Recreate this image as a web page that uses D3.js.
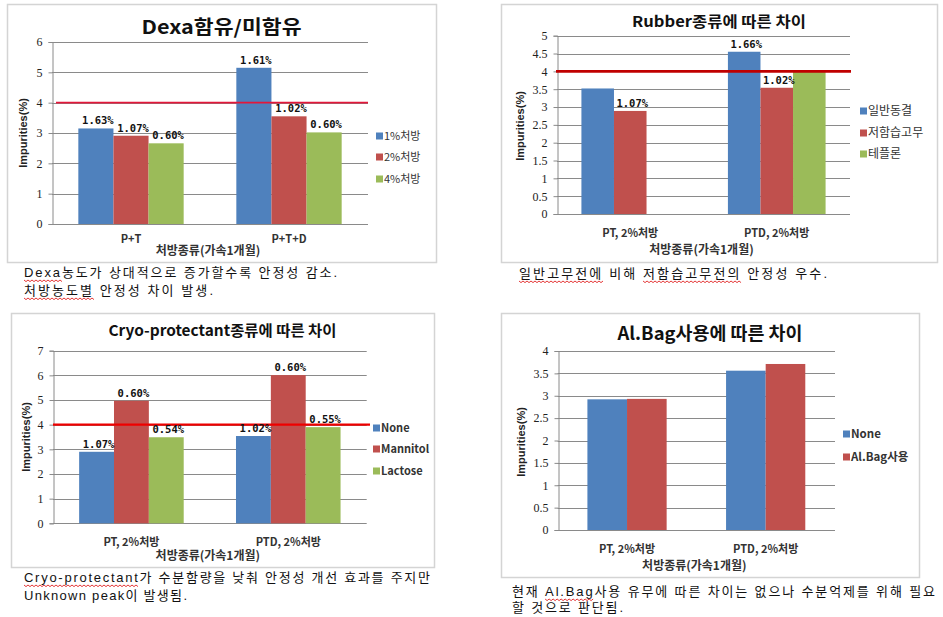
<!DOCTYPE html>
<html><head><meta charset="utf-8">
<script src="https://cdn.jsdelivr.net/npm/d3@7"></script>
<style>
body{margin:0;background:#fff;}
svg{display:block;}
</style></head>
<body>
<script>
// ---------- DATA ----------
const p1Title = "Dexa함유/미함유";
const p1Categories = ["P+T", "P+T+D"];
const p1Series = ["1%처방", "2%처방", "4%처방"];
const p1Values = [[3.15, 5.15], [2.91, 3.55], [2.66, 3.02]];
const p1Labels = [["1.63%", "1.61%"], ["1.07%", "1.02%"], ["0.60%", "0.60%"]];
const p1Ticks = [0, 1, 2, 3, 4, 5, 6];
const p1Limit = 4;
const p1Caption = ["Dexa농도가 상대적으로 증가할수록 안정성 감소.", "처방농도별 안정성 차이 발생."];
const p1Underline = [["Dexa"], ["처방농도별"]];

const p2Title = "Rubber종류에 따른 차이";
const p2Categories = ["PT, 2%처방", "PTD, 2%처방"];
const p2Series = ["일반동결", "저함습고무", "테플론"];
const p2Values = [[3.52, 4.55], [2.89, 3.54], [null, 4.02]];
const p2Labels = [[null, "1.66%"], ["1.07%", "1.02%"], [null, null]];
const p2Ticks = [0, 0.5, 1, 1.5, 2, 2.5, 3, 3.5, 4, 4.5, 5];
const p2Limit = 4;
const p2Caption = ["일반고무전에 비해 저함습고무전의 안정성 우수."];
const p2Underline = [["일반고무전에", "저함습고무전의"]];

const p3Title = "Cryo-protectant종류에 따른 차이";
const p3Categories = ["PT, 2%처방", "PTD, 2%처방"];
const p3Series = ["None", "Mannitol", "Lactose"];
const p3Values = [[2.9, 3.54], [4.97, 6.01], [3.49, 3.9]];
const p3Labels = [["1.07%", "1.02%"], ["0.60%", "0.60%"], ["0.54%", "0.55%"]];
const p3Ticks = [0, 1, 2, 3, 4, 5, 6, 7];
const p3Limit = 4;
const p3Caption = ["Cryo-protectant가 수분함량을 낮춰 안정성 개선 효과를 주지만", "Unknown peak이 발생됨."];
const p3Underline = [["Cryo-protectant"], []];

const p4Title = "Al.Bag사용에 따른 차이";
const p4Categories = ["PT, 2%처방", "PTD, 2%처방"];
const p4Series = ["None", "Al.Bag사용"];
const p4Values = [[2.92, 3.56], [2.93, 3.71]];
const p4Labels = [[null, null], [null, null]];
const p4Ticks = [0, 0.5, 1, 1.5, 2, 2.5, 3, 3.5, 4];
const p4Limit = null;
const p4Caption = ["현재 Al.Bag사용 유무에 따른 차이는 없으나 수분억제를 위해 필요", "할 것으로 판단됨."];
const p4Underline = [["Al.Bag"], []];

const xTitle = "처방종류(가속1개월)";
const yTitle = "Impurities(%)";
const seriesColors = ["#4f81bd", "#c0504d", "#9bbb59"];

// ---------- LAYOUT ----------
const panels = [
  {title:p1Title, cats:p1Categories, series:p1Series, values:p1Values, labels:p1Labels, ticks:p1Ticks, limit:p1Limit,
   caption:p1Caption, underline:p1Underline,
   frame:[7,4,436,262], plot:[52,42,368,224], titleY:34, titleSize:19, titleLen:160,
   limitColor:"#e3173a", limitW:1.6, limitX0:56, limitX1:368,
   legend:{x:376, ys:[136,157,179], size:11, bold:false},
   xLabY:243, xTitleY:255, yTitleX:23, yTitleY:133,
   cap:{x:24, ys:[277,295], lens:[313,189]}},
  {title:p2Title, cats:p2Categories, series:p2Series, values:p2Values, labels:p2Labels, ticks:p2Ticks, limit:p2Limit,
   caption:p2Caption, underline:p2Underline,
   frame:[501,4,937,262], plot:[557,35.7,850,214], titleY:27, titleSize:15, titleLen:174,
   limitColor:"#c00000", limitW:2.6, limitX0:556, limitX1:851,
   legend:{x:860, ys:[111,133,154], size:12, bold:false},
   xLabY:237, xTitleY:254, yTitleX:520, yTitleY:126,
   cap:{x:519, ys:[278], lens:[308]}},
  {title:p3Title, cats:p3Categories, series:p3Series, values:p3Values, labels:p3Labels, ticks:p3Ticks, limit:p3Limit,
   caption:p3Caption, underline:p3Underline,
   frame:[11,313,434,567], plot:[53,350.7,366.7,523.3], titleY:336, titleSize:15, titleLen:228,
   limitColor:"#ee0000", limitW:2.2, limitX0:53, limitX1:370,
   legend:{x:373, ys:[428,449,471], size:11, bold:true},
   xLabY:546, xTitleY:560, yTitleX:26, yTitleY:437,
   cap:{x:24, ys:[582,600], lens:[406,163]}},
  {title:p4Title, cats:p4Categories, series:p4Series, values:p4Values, labels:p4Labels, ticks:p4Ticks, limit:p4Limit,
   caption:p4Caption, underline:p4Underline,
   frame:[501,313,919,577], plot:[557.7,351,835,530], titleY:340, titleSize:18, titleLen:185,
   limitColor:null, limitW:0, limitX0:0, limitX1:0,
   legend:{x:843, ys:[434,457], size:11.5, bold:true},
   xLabY:553, xTitleY:570, yTitleX:521, yTitleY:442,
   cap:{x:512, ys:[596,612], lens:[423,111]}}
];

const W = 943, H = 617;
const svg = d3.select("body").append("svg").attr("width", W).attr("height", H);
svg.append("rect").attr("width", W).attr("height", H).attr("fill", "#fff");

const sansKR = "'Noto Sans CJK KR', 'Noto Sans', sans-serif";
const capFont = "'Liberation Sans', 'Noto Sans CJK KR', sans-serif";

panels.forEach(p => {
  const g = svg.append("g");
  const [fx0, fy0, fx1, fy1] = p.frame;
  g.append("rect").attr("x", fx0 + 0.5).attr("y", fy0 + 0.5).attr("width", fx1 - fx0).attr("height", fy1 - fy0)
    .attr("fill", "#fff").attr("stroke", "#d4d4d4").attr("stroke-width", 1.5);

  const [px0, py0, px1, py1] = p.plot;
  const y = d3.scaleLinear().domain([0, d3.max(p.ticks)]).range([py1, py0]);
  const x0 = d3.scaleBand().domain(p.cats).range([px0, px1]).padding(0);
  const nS = p.series.length;
  const barW = x0.bandwidth() / (nS + 1.5);
  const x1 = d3.scaleBand().domain(p.series).range([0, barW * nS]).padding(0);

  // gridlines
  g.append("g").selectAll("line").data(p.ticks.filter(t => t > 0)).join("line")
    .attr("x1", px0).attr("x2", px1).attr("y1", d => Math.round(y(d)) + 0.5).attr("y2", d => Math.round(y(d)) + 0.5)
    .attr("stroke", "#8a8a8a").attr("stroke-width", 1);

  // y axis
  const ya = g.append("g").attr("transform", `translate(${Math.round(px0) + 0.5},0)`)
    .call(d3.axisLeft(y).tickValues(p.ticks).tickSize(4).tickPadding(6).tickFormat(d => String(d)));
  ya.select(".domain").attr("stroke", "#8a8a8a");
  ya.selectAll(".tick line").attr("stroke", "#8a8a8a");
  ya.selectAll("text").attr("font-family", "'Liberation Serif', serif").attr("font-size", 12).attr("fill", "#222");

  // x baseline
  g.append("line").attr("x1", px0).attr("x2", px1).attr("y1", Math.round(y(0)) + 0.5).attr("y2", Math.round(y(0)) + 0.5)
    .attr("stroke", "#8a8a8a");

  // bars
  p.series.forEach((s, si) => {
    p.cats.forEach((c, ci) => {
      const v = p.values[si][ci];
      if (v == null) return;
      const bx = x0(c) + (x0.bandwidth() - barW * nS) / 2 + x1(s);
      g.append("rect").attr("x", bx).attr("y", y(v)).attr("width", barW).attr("height", y(0) - y(v))
        .attr("fill", seriesColors[si]);
    });
  });

  // limit line
  if (p.limit != null) {
    g.append("line").attr("x1", p.limitX0).attr("x2", p.limitX1).attr("y1", y(p.limit)).attr("y2", y(p.limit))
      .attr("stroke", p.limitColor).attr("stroke-width", p.limitW);
  }

  // data labels
  p.series.forEach((s, si) => {
    p.cats.forEach((c, ci) => {
      const lab = p.labels[si][ci];
      const v = p.values[si][ci];
      if (lab == null || v == null) return;
      const bx = x0(c) + (x0.bandwidth() - barW * nS) / 2 + x1(s) + barW / 2;
      g.append("text").attr("x", bx + 2).attr("y", y(v) - 4).attr("text-anchor", "middle")
        .attr("font-family", "'DejaVu Sans Mono', monospace").attr("font-weight", "bold")
        .attr("font-size", 10.5).attr("fill", "#111").text(lab);
    });
  });

  // x labels
  g.append("g").selectAll("text").data(p.cats).join("text")
    .attr("x", d => x0(d) + x0.bandwidth() / 2).attr("y", p.xLabY).attr("text-anchor", "middle")
    .attr("font-family", sansKR).attr("font-size", 11).attr("font-weight", "bold").attr("fill", "#333").text(d => d);

  // axis titles
  g.append("text").attr("x", (px0 + px1) / 2 - 2).attr("y", p.xTitleY).attr("text-anchor", "middle")
    .attr("font-family", sansKR).attr("font-size", 12).attr("font-weight", "bold").attr("fill", "#333").text(xTitle);
  g.append("text").attr("transform", `translate(${p.yTitleX + 4},${p.yTitleY}) rotate(-90)`).attr("text-anchor", "middle")
    .attr("font-family", "'Liberation Sans', sans-serif").attr("font-size", 11).attr("font-weight", "bold").attr("fill", "#222").text(yTitle);

  // chart title
  g.append("text").attr("x", (fx0 + fx1) / 2).attr("y", p.titleY).attr("text-anchor", "middle")
    .attr("font-family", sansKR).attr("font-weight", "bold").attr("font-size", p.titleSize).attr("fill", "#111")
    .attr("textLength", p.titleLen).attr("lengthAdjust", "spacingAndGlyphs").text(p.title);

  // legend
  p.series.forEach((s, si) => {
    const ly = p.legend.ys[si];
    g.append("rect").attr("x", p.legend.x).attr("y", ly - 3.5).attr("width", 7).attr("height", 7).attr("fill", seriesColors[si]);
    g.append("text").attr("x", p.legend.x + 8).attr("y", ly + 4).attr("font-family", sansKR)
      .attr("font-size", p.legend.size).attr("font-weight", p.legend.bold ? "bold" : "normal").attr("fill", "#333").text(s);
  });

  // caption
  p.caption.forEach((line, li) => {
    const t = svg.append("text").attr("x", p.cap.x).attr("y", p.cap.ys[li])
      .attr("font-family", capFont).attr("font-size", 13).attr("fill", "#111")
      .attr("textLength", p.cap.lens[li]).attr("lengthAdjust", "spacing").text(line);
    const node = t.node();
    (p.underline[li] || []).forEach(word => {
      const idx = line.indexOf(word);
      if (idx < 0) return;
      const sx = node.getStartPositionOfChar(idx).x;
      const ex = node.getEndPositionOfChar(idx + word.length - 1).x;
      const by = p.cap.ys[li] + 3;
      let dPath = `M${sx},${by}`;
      for (let xx = sx, k = 0; xx < ex; xx += 2, k++) dPath += `L${xx + 2},${by + (k % 2 ? 0 : 1.6)}`;
      svg.append("path").attr("d", dPath).attr("fill", "none").attr("stroke", "#e02020").attr("stroke-width", 0.9);
    });
  });
});
</script>
</body></html>
